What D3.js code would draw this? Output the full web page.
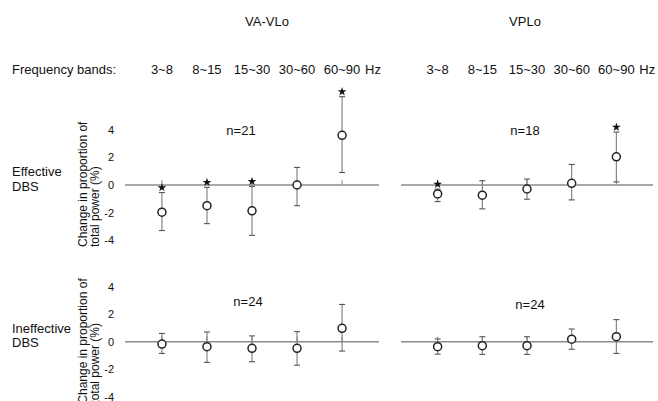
<!DOCTYPE html>
<html>
<head>
<meta charset="utf-8">
<script src="https://cdn.jsdelivr.net/npm/d3@7"></script>
<style>
	body { margin: 0; background: #fff; }
	svg { display: block; font-family: "Liberation Sans", Arial, sans-serif; }
</style>
</head>
<body>
<svg id="chart" width="658" height="401"></svg>
<script>
// frequency bands (x categories)
const bands = ['3~8', '8~15', '15~30', '30~60', '60~90']
const regions = ['VA-VLo', 'VPLo']
const conditions = [['Effective', 'DBS'], ['Ineffective', 'DBS']]
const yTicks = [-4, -2, 0, 2, 4]

// change in proportion of total power (%), mean and error bar ends
const effVAmean = [-1.97, -1.5, -1.87, 0, 3.6]
const effVAhigh = [-0.55, -0.17, -0.1, 1.27, 6.4]
const effVAlow = [-3.3, -2.8, -3.65, -1.5, 0.91]
const effVAsig = [1, 1, 1, 0, 1]

const effVPmean = [-0.65, -0.74, -0.29, 0.12, 2.04]
const effVPhigh = [-0.3, 0.31, 0.43, 1.49, 3.83]
const effVPlow = [-1.2, -1.73, -1.03, -1.08, 0.22]
const effVPsig = [1, 0, 0, 0, 1]

const inefVAmean = [-0.17, -0.36, -0.48, -0.48, 0.97]
const inefVAhigh = [0.6, 0.7, 0.42, 0.73, 2.7]
const inefVAlow = [-0.85, -1.5, -1.45, -1.7, -0.68]
const inefVAsig = [0, 0, 0, 0, 0]

const inefVPmean = [-0.36, -0.29, -0.29, 0.18, 0.36]
const inefVPhigh = [0.2, 0.36, 0.36, 0.92, 1.6]
const inefVPlow = [-0.9, -0.92, -0.92, -0.55, -0.85]
const inefVPsig = [0, 0, 0, 0, 0]

const nLabels = [['n=21', 'n=18'], ['n=24', 'n=24']]

const panels = [
	[[effVAmean, effVAhigh, effVAlow, effVAsig], [effVPmean, effVPhigh, effVPlow, effVPsig]],
	[[inefVAmean, inefVAhigh, inefVAlow, inefVAsig], [inefVPmean, inefVPhigh, inefVPlow, inefVPsig]]
]

const svg = d3.select('#chart')

/*----------------- layout ------------------*/
const xRanges = [[125, 379], [401, 653]]
const rowZero = [185, 341.7]
const unit = 13.8
const nPos = [[[241, 135], [525, 135]], [[248, 306], [530, 309]]]

const xScales = xRanges.map(r => d3.scalePoint().domain(bands).range(r).padding(0.82))
const yScales = rowZero.map(z => d3.scaleLinear().domain([-4, 4]).range([z + 4 * unit, z - 4 * unit]))

// region titles
regions.forEach((name, i) => {
	svg.append('text')
		.attr('x', i === 0 ? 267 : 525)
		.attr('y', 26)
		.attr('text-anchor', 'middle')
		.attr('font-size', 13)
		.attr('fill', '#111')
		.text(name)
})

// frequency band header
svg.append('text')
	.attr('x', 12).attr('y', 74)
	.attr('font-size', 13).attr('fill', '#111')
	.text('Frequency bands:')

xScales.forEach(x => {
	bands.forEach(b => {
		svg.append('text')
			.attr('x', x(b)).attr('y', 74)
			.attr('text-anchor', 'middle')
			.attr('font-size', 13).attr('fill', '#111')
			.text(b)
	})
	svg.append('text')
		.attr('x', x(bands[4]) + 23).attr('y', 74)
		.attr('font-size', 13).attr('fill', '#111')
		.text('Hz')
})

/*----------------- rows ------------------*/
conditions.forEach((cond, row) => {
	const y = yScales[row]
	const z = rowZero[row]

	// row label
	const lab = svg.append('text')
		.attr('x', 12).attr('y', z - 9)
		.attr('font-size', 13).attr('fill', '#111')
	lab.append('tspan').attr('x', 12).text(cond[0])
	lab.append('tspan').attr('x', 12).attr('dy', 14.5).text(cond[1])

	// y axis label (runs past the bottom edge in the lower row, as in the source)
	const yl = svg.append('text')
		.attr('transform', `translate(87,${z + 62}) rotate(-90)`)
		.attr('font-size', 12).attr('fill', '#111')
	yl.append('tspan').attr('x', 0).attr('y', 0).text('Change in proportion of')
	yl.append('tspan').attr('x', 0).attr('y', 11.5).text('total power (%)')

	// y ticks (labels only)
	const ax = svg.append('g')
		.attr('transform', 'translate(114,0)')
		.call(d3.axisLeft(y).tickValues(yTicks).tickSize(0).tickPadding(0).tickFormat(d => String(d)))
	ax.select('.domain').remove()
	ax.selectAll('text')
		.attr('font-size', 11)
		.attr('font-family', '"Liberation Sans", Arial, sans-serif')
		.attr('fill', '#111')

	panels[row].forEach((series, col) => {
		const x = xScales[col]
		const [mean, high, low, sig] = series
		const g = svg.append('g')

		// zero line
		g.append('line')
			.attr('x1', xRanges[col][0]).attr('x2', xRanges[col][1])
			.attr('y1', y(0)).attr('y2', y(0))
			.attr('stroke', '#8c8c8c').attr('stroke-width', 1.6)

		// small ticks on zero line
		g.selectAll('.ztick').data(bands).enter().append('line')
			.attr('x1', d => x(d)).attr('x2', d => x(d))
			.attr('y1', y(0)).attr('y2', y(0) - 5)
			.attr('stroke', '#8c8c8c').attr('stroke-width', 1)

		const pts = bands.map((b, i) => ({ b, m: mean[i], hi: high[i], lo: low[i], s: sig[i] }))

		// error bars
		g.selectAll('.eb').data(pts).enter().append('line')
			.attr('x1', d => x(d.b)).attr('x2', d => x(d.b))
			.attr('y1', d => y(d.hi)).attr('y2', d => y(d.lo))
			.attr('stroke', '#7a7a7a').attr('stroke-width', 1.1)
		;['hi', 'lo'].forEach(k => {
			g.selectAll('.cap' + k).data(pts).enter().append('line')
				.attr('x1', d => x(d.b) - 3).attr('x2', d => x(d.b) + 3)
				.attr('y1', d => y(d[k])).attr('y2', d => y(d[k]))
				.attr('stroke', '#555').attr('stroke-width', 1.1)
		})

		// means
		g.selectAll('.pt').data(pts).enter().append('circle')
			.attr('cx', d => x(d.b)).attr('cy', d => y(d.m))
			.attr('r', 4)
			.attr('fill', '#fff')
			.attr('stroke', '#222').attr('stroke-width', 1.5)

		// significance stars
		g.selectAll('.star').data(pts.filter(d => d.s)).enter().append('path')
			.attr('d', d3.symbol().type(d3.symbolStar).size(24))
			.attr('transform', d => `translate(${x(d.b)},${y(d.hi) - 5})`)
			.attr('fill', '#111')

		// n labels
		svg.append('text')
			.attr('x', nPos[row][col][0]).attr('y', nPos[row][col][1])
			.attr('text-anchor', 'middle')
			.attr('font-size', 13).attr('fill', '#111')
			.text(nLabels[row][col])
	})
})
</script>
</body>
</html>
